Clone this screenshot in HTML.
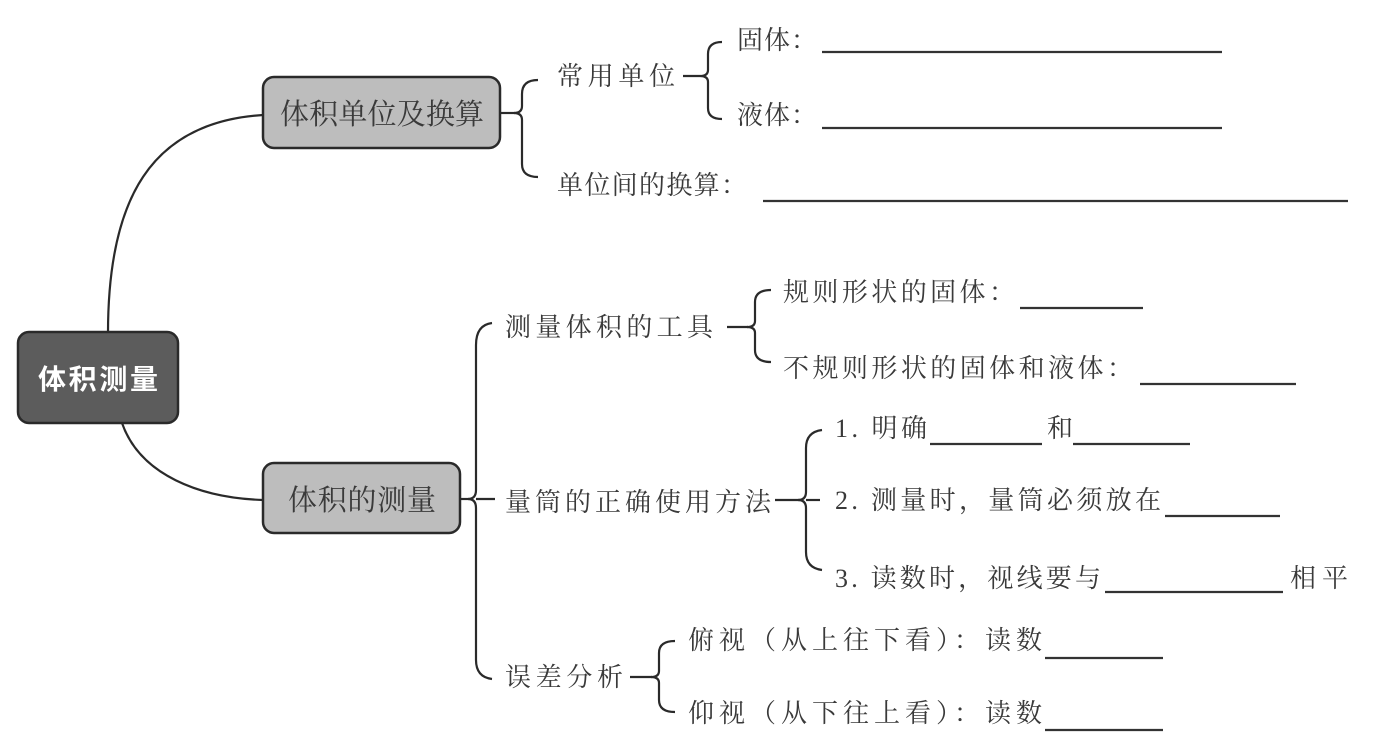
<!DOCTYPE html>
<html><head><meta charset="utf-8"><style>
html,body{margin:0;padding:0;background:#fff;}
svg{display:block;}
text{font-family:"Liberation Serif","Noto Serif CJK SC",serif;font-size:26px;fill:#3a3a3a;}
.b{font-family:"Liberation Sans","Noto Sans CJK SC",sans-serif;}
</style></head><body>
<svg width="1386" height="750" viewBox="0 0 1386 750" xmlns="http://www.w3.org/2000/svg">
<g fill="none" stroke="#2a2a2a" stroke-width="2.2">
<path d="M108,333 C108,200 150,122 263,115"/>
<path d="M122,423 C140,475 200,498 263,500"/>
<!-- brace 1 -->
<line x1="500" y1="113" x2="515" y2="113"/>
<path d="M538,80 Q522,80 522,94 L522,106 Q522,113 514,113 Q522,113 522,120 L522,164 Q522,177 538,177"/>
<line x1="683" y1="76" x2="700" y2="76"/>
<path d="M722,42 Q708,42 708,54 L708,70 Q708,76 700,76 Q708,76 708,82 L708,108 Q708,119 722,119"/>
<!-- brace 2 -->
<line x1="460" y1="499" x2="470" y2="499"/>
<path d="M492,323 Q476,325 476,345 L476,490 Q476,499 468,499 Q476,499 476,508 L476,660 Q476,677 492,679"/>
<line x1="476" y1="499" x2="495" y2="499"/>
<line x1="727" y1="327" x2="748" y2="327"/>
<path d="M771,290 Q755,290 755,302 L755,321 Q755,327 747,327 Q755,327 755,333 L755,350 Q755,362 771,362"/>
<line x1="775" y1="500" x2="800" y2="500"/>
<path d="M822,430 Q806,432 806,448 L806,492 Q806,500 798,500 Q806,500 806,508 L806,552 Q806,568 822,570"/>
<line x1="806" y1="500" x2="820" y2="500"/>
<line x1="630" y1="677" x2="652" y2="677"/>
<path d="M675,641 Q659,641 659,653 L659,671 Q659,677 651,677 Q659,677 659,683 L659,700 Q659,712 675,712"/>
</g>
<g stroke="#333" stroke-width="2.2">
<line x1="822" y1="52" x2="1222" y2="52"/>
<line x1="822" y1="128" x2="1222" y2="128"/>
<line x1="763" y1="201" x2="1348" y2="201"/>
<line x1="1020" y1="308" x2="1143" y2="308"/>
<line x1="1140" y1="384" x2="1296" y2="384"/>
<line x1="930" y1="444" x2="1042" y2="444"/>
<line x1="1073" y1="444" x2="1190" y2="444"/>
<line x1="1165" y1="516" x2="1280" y2="516"/>
<line x1="1105" y1="592" x2="1283" y2="592"/>
<line x1="1045" y1="658" x2="1163" y2="658"/>
<line x1="1045" y1="730" x2="1163" y2="730"/>
</g>
<rect x="18" y="332" width="160" height="91" rx="11" fill="#5c5c5c" stroke="#2a2a2a" stroke-width="2.5"/>
<rect x="263" y="77" width="237" height="71" rx="11" fill="#bdbdbd" stroke="#2a2a2a" stroke-width="2.5"/>
<rect x="263" y="463" width="197" height="70" rx="11" fill="#bdbdbd" stroke="#2a2a2a" stroke-width="2.5"/>
<text class="b" x="38" y="389" textLength="120" style="fill:#fff;font-weight:bold;font-size:28px">体积测量</text>
<text x="280" y="124" textLength="204" style="font-size:29px">体积单位及换算</text>
<text x="288" y="510" textLength="148" style="font-size:29px">体积的测量</text>
<text x="557" y="85" textLength="118">常用单位</text>
<text x="557" y="194" textLength="190">单位间的换算：</text>
<text x="737" y="49" textLength="80">固体：</text>
<text x="737" y="124" textLength="80">液体：</text>
<text x="505" y="336" textLength="208">测量体积的工具</text>
<text x="505" y="511" textLength="266">量筒的正确使用方法</text>
<text x="505" y="686" textLength="118">误差分析</text>
<text x="783" y="301" textLength="232">规则形状的固体：</text>
<text x="783" y="377" textLength="350">不规则形状的固体和液体：</text>
<text x="835" y="437" textLength="92">1. 明确</text>
<text x="1047" y="437" textLength="26">和</text>
<text x="835" y="509" textLength="326">2. 测量时，量筒必须放在</text>
<text x="835" y="587" textLength="266">3. 读数时，视线要与</text>
<text x="1290" y="587" textLength="58">相平</text>
<text x="688" y="649" textLength="354">俯视（从上往下看）：读数</text>
<text x="688" y="722" textLength="354">仰视（从下往上看）：读数</text>
</svg>
</body></html>
